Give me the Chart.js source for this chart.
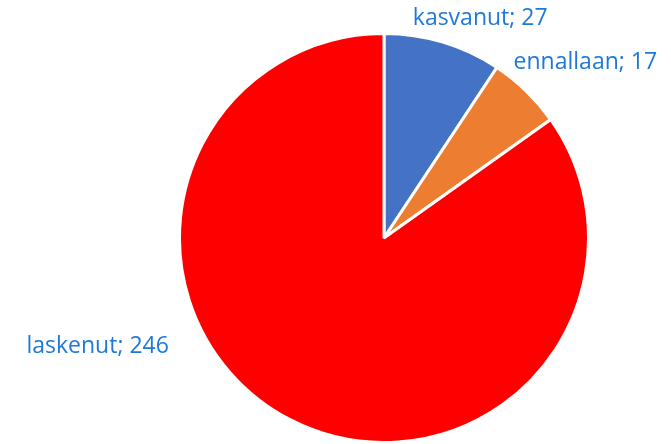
<!DOCTYPE html>
<html lang="fi">
<head>
    <meta charset="UTF-8">
    <title>Pie</title>
    <style>
        body {
            margin: 0;
            padding: 0;
            background-color: #fff;
        }

        .chart-container {
            width: 671px;
            height: 444px;
        }
    </style>
</head>
<body>
<div class="chart-container">
    <canvas id="pieChart"></canvas>
</div>
<script src="https://cdn.jsdelivr.net/npm/chart.js"></script>
<script>
    const categories = ['kasvanut', 'ennallaan', 'laskenut'];
    const counts = [27, 17, 246];
    const sliceColors = ['#4472C4', '#ED7D31', '#FF0000'];

    // label placement: angle offset from slice middle (deg) and distance as factor of radius
    const labelPlacement = [
        {turn: 7.5, dist: 1.145},
        {turn: 6.0, dist: 1.284},
        {turn: 40.8, dist: 1.509}
    ];

    const pieLabels = {
        id: 'pieLabels',
        afterDatasetsDraw(chart) {
            const ctx = chart.ctx;
            const meta = chart.getDatasetMeta(0);
            ctx.save();
            ctx.font = '23px "Open Sans"';
            ctx.fillStyle = '#1F78D8';
            ctx.textAlign = 'center';
            ctx.textBaseline = 'alphabetic';
            meta.data.forEach((arc, i) => {
                const mid = (arc.startAngle + arc.endAngle) / 2 + labelPlacement[i].turn * Math.PI / 180;
                const r = arc.outerRadius * labelPlacement[i].dist;
                const x = arc.x + Math.cos(mid) * r;
                const y = arc.y + Math.sin(mid) * r;
                ctx.fillText(categories[i] + '; ' + counts[i], x, y);
            });
            ctx.restore();
        }
    };

    new Chart(document.getElementById('pieChart').getContext('2d'), {
        type: 'pie',
        data: {
            labels: categories,
            datasets: [{
                data: counts,
                backgroundColor: sliceColors,
                borderColor: '#fff',
                borderWidth: 3
            }]
        },
        options: {
            responsive: true,
            maintainAspectRatio: false,
            animation: false,
            layout: {
                padding: {top: 32, bottom: -4, left: 176, right: 79}
            },
            plugins: {
                legend: {display: false},
                tooltip: {enabled: false}
            }
        },
        plugins: [pieLabels]
    });
</script>
</body>
</html>
